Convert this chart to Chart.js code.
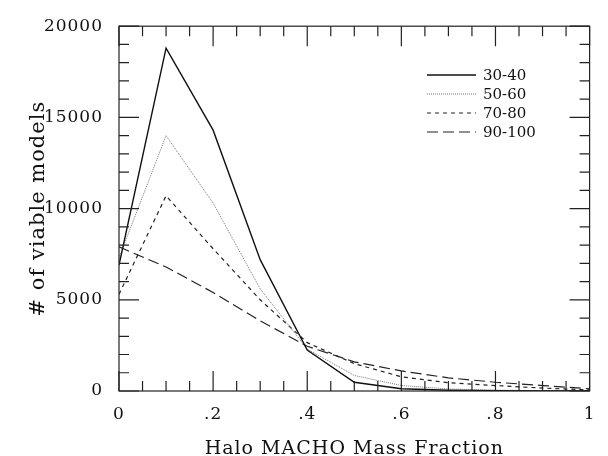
<!DOCTYPE html>
<html>
<head>
<meta charset="utf-8">
<script src="https://cdn.jsdelivr.net/npm/chart.js@4/dist/chart.umd.min.js"></script>
<style>
    html, body { margin: 0; padding: 0; background: #fff; }
    #wrap { width: 608px; height: 456px; }
</style>
</head>
<body>
<div id="wrap"><canvas id="chart" width="608" height="456"></canvas></div>
<script>
const fractions = [0, 0.1, 0.2, 0.3, 0.4, 0.5, 0.6, 0.7, 0.8, 0.9, 1.0];
const labels = ["30-40", "50-60", "70-80", "90-100"];
const models3040 = [6900, 18800, 14300, 7200, 2250, 480, 120, 40, 10, 5, 0];
const models5060 = [7300, 14000, 10300, 5600, 2300, 850, 300, 110, 50, 20, 10];
const models7080 = [5300, 10700, 7800, 5000, 2650, 1500, 780, 450, 300, 160, 60];
const models90100 = [7900, 6800, 5400, 3850, 2450, 1600, 1100, 720, 480, 300, 120];
const yTicks = [0, 5000, 10000, 15000, 20000];

const styles = [
    { color: "#111", width: 1.4, dash: [] },
    { color: "#777", width: 1, dash: [1, 1] },
    { color: "#222", width: 1.2, dash: [4, 4] },
    { color: "#222", width: 1.2, dash: [11, 5] }
];

const series = [models3040, models5060, models7080, models90100];

const datasets = series.map((vals, i) => ({
    label: labels[i],
    data: vals.map((v, j) => ({ x: fractions[j], y: v })),
    borderColor: styles[i].color,
    borderWidth: styles[i].width,
    borderDash: styles[i].dash,
    pointRadius: 0,
    fill: false,
    tension: 0
}));

// the original lettering is wide, so space the axis text out a little
const wideText = {
    id: "wideText",
    beforeDraw(chart) { chart.ctx.letterSpacing = "1px"; },
    beforeDatasetsDraw(chart) { chart.ctx.letterSpacing = "0px"; }
};

// ticks inside the frame on all four sides, plus the box
const frameTicks = {
    id: "frameTicks",
    afterDraw(chart) {
        const ctx = chart.ctx;
        const a = chart.chartArea;
        const xs = chart.scales.x;
        const ys = chart.scales.y;
        ctx.save();
        ctx.strokeStyle = "#222";
        ctx.lineWidth = 1.2;
        ctx.strokeRect(a.left, a.top, a.right - a.left, a.bottom - a.top);
        ctx.beginPath();
        for (let k = 0; k <= 20; k++) {
            const px = xs.getPixelForValue(k * 0.05);
            const len = (k % 4 === 0) ? 20 : 10;
            ctx.moveTo(px, a.bottom);
            ctx.lineTo(px, a.bottom - len);
            ctx.moveTo(px, a.top);
            ctx.lineTo(px, a.top + len);
        }
        for (let k = 0; k <= 20; k++) {
            const py = ys.getPixelForValue(k * 1000);
            const len = (k % 5 === 0) ? 20 : 10;
            ctx.moveTo(a.left, py);
            ctx.lineTo(a.left + len, py);
            ctx.moveTo(a.right, py);
            ctx.lineTo(a.right - len, py);
        }
        ctx.stroke();
        ctx.restore();
    }
};

// legend drawn inside the upper right corner
const innerLegend = {
    id: "innerLegend",
    afterDraw(chart) {
        const ctx = chart.ctx;
        ctx.save();
        ctx.font = "15px 'DejaVu Serif'";
        ctx.textBaseline = "middle";
        ctx.fillStyle = "#111";
        chart.data.datasets.forEach((ds, i) => {
            const y = 75 + i * 19;
            ctx.beginPath();
            ctx.strokeStyle = ds.borderColor;
            ctx.lineWidth = ds.borderWidth;
            ctx.setLineDash(ds.borderDash);
            ctx.moveTo(427, y);
            ctx.lineTo(476, y);
            ctx.stroke();
            ctx.setLineDash([]);
            ctx.fillText(ds.label, 483, y + 1);
        });
        ctx.restore();
    }
};

new Chart(document.getElementById("chart"), {
    type: "line",
    data: { datasets: datasets },
    options: {
        responsive: false,
        animation: false,
        layout: { padding: { top: 20, right: 13, left: 0, bottom: 0 } },
        plugins: {
            legend: { display: false },
            tooltip: { enabled: false }
        },
        scales: {
            x: {
                type: "linear",
                min: 0,
                max: 1,
                grid: { display: false, drawTicks: false },
                border: { display: false },
                afterFit: s => { s.height = 65; },
                ticks: {
                    stepSize: 0.2,
                    color: "#111",
                    padding: 13,
                    font: { family: "DejaVu Serif", size: 17 },
                    callback: v => {
                        if (v === 0) return "0";
                        if (Math.abs(v - 1) < 1e-9) return "1";
                        return "." + Math.round(v * 10);
                    }
                },
                title: {
                    display: true,
                    text: "Halo MACHO Mass Fraction",
                    color: "#111",
                    font: { family: "DejaVu Serif", size: 19, lineHeight: 1 },
                    padding: { top: 0, bottom: -3 }
                }
            },
            y: {
                min: 0,
                max: 20000,
                grid: { display: false, drawTicks: false },
                border: { display: false },
                afterFit: s => { s.width = 119; },
                afterBuildTicks: s => { s.ticks = yTicks.map(v => ({ value: v })); },
                ticks: {
                    color: "#111",
                    padding: 16,
                    font: { family: "DejaVu Serif", size: 17 },
                    callback: v => String(v)
                },
                title: {
                    display: true,
                    text: "# of viable models",
                    color: "#111",
                    font: { family: "DejaVu Serif", size: 21 },
                    padding: { top: 26, bottom: 0 }
                }
            }
        }
    },
    plugins: [wideText, frameTicks, innerLegend]
});
</script>
</body>
</html>
